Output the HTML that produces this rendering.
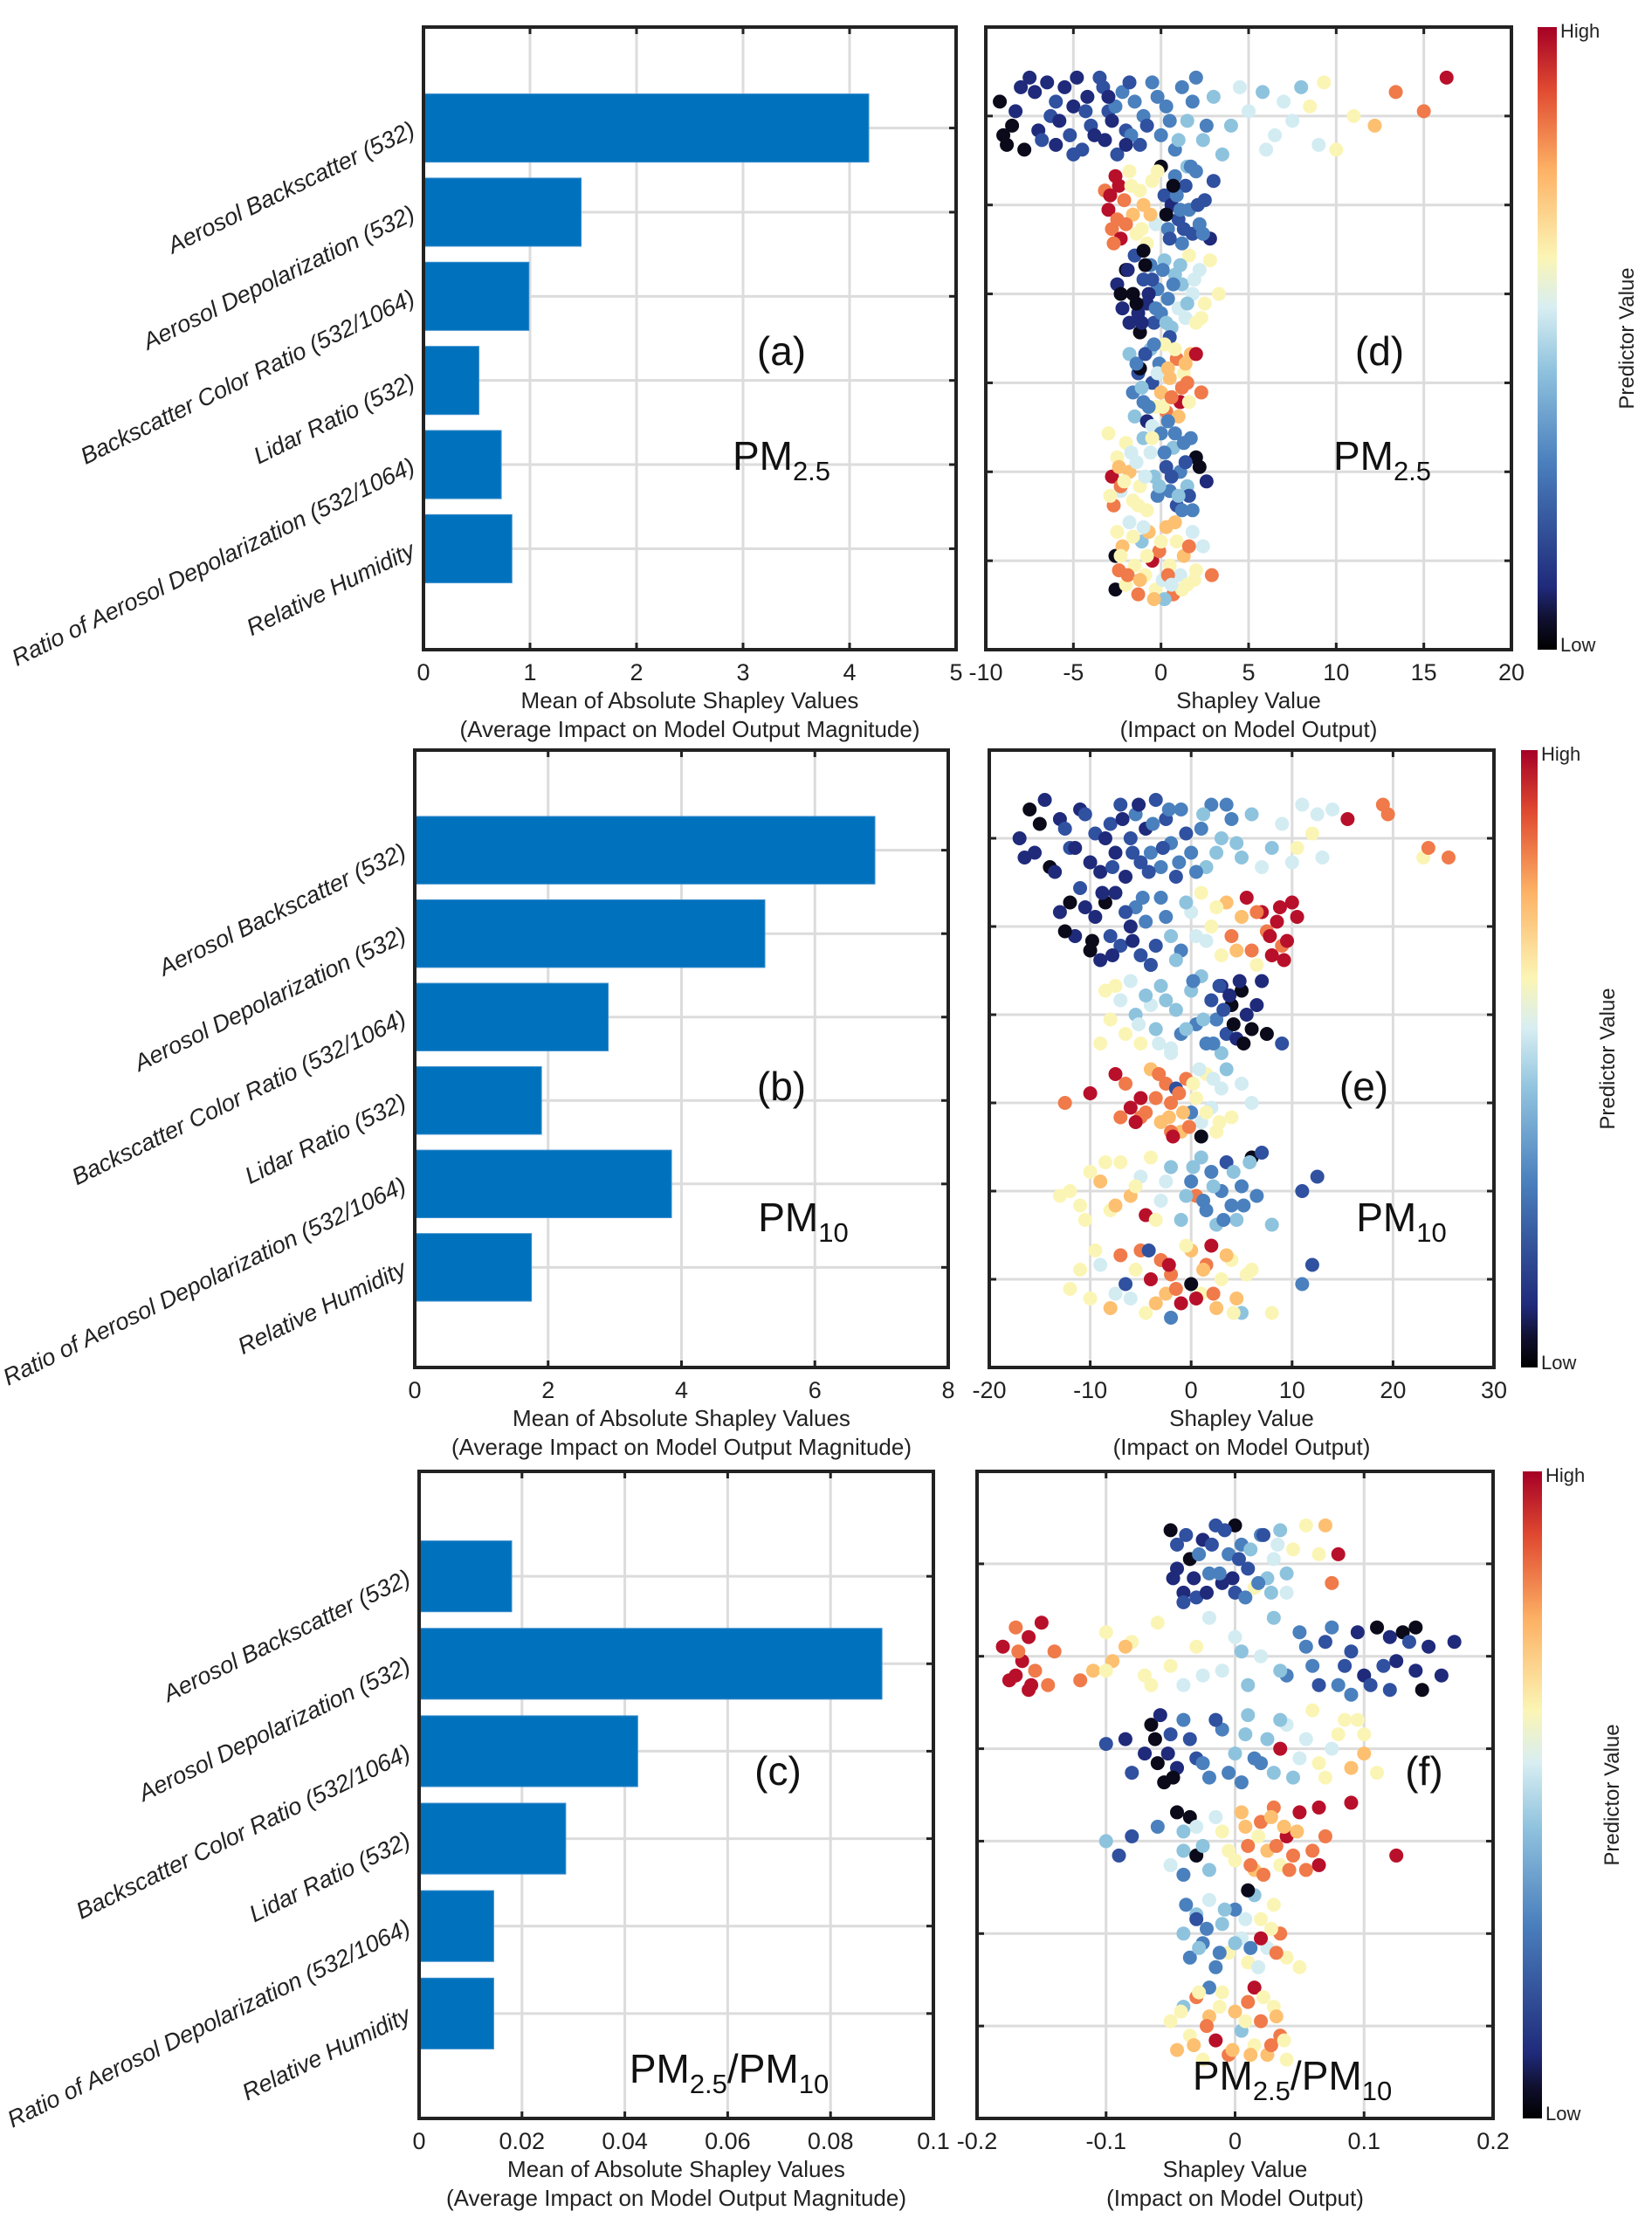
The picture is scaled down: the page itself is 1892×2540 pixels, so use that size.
<!DOCTYPE html>
<html><head><meta charset="utf-8"><style>
html,body{margin:0;padding:0;background:#fff}
svg{display:block;font-family:"Liberation Sans",Arial,sans-serif}
</style></head><body>
<svg id="fig" width="1892" height="2540" viewBox="0 0 1892 2540" xmlns="http://www.w3.org/2000/svg">
<defs>
<linearGradient id="cmap" x1="0" y1="1" x2="0" y2="0">
<stop offset="0" stop-color="#000000"/><stop offset="0.05" stop-color="#101030"/><stop offset="0.1" stop-color="#1f2a7a"/><stop offset="0.3" stop-color="#4a7fbd"/><stop offset="0.45" stop-color="#90c3de"/><stop offset="0.55" stop-color="#d8eef2"/><stop offset="0.63" stop-color="#fbf5b5"/><stop offset="0.77" stop-color="#fdb265"/><stop offset="0.9" stop-color="#e04a30"/><stop offset="1" stop-color="#a50026"/>
</linearGradient>
</defs>
</svg>
<script>
const categories = ["Aerosol Backscatter (532)","Aerosol Depolarization (532)","Backscatter Color Ratio (532/1064)","Lidar Ratio (532)","Ratio of Aerosol Depolarization (532/1064)","Relative Humidity"];
const barA = [4.18, 1.48, 0.99, 0.52, 0.73, 0.83];
const barB = [6.9, 5.25, 2.9, 1.9, 3.85, 1.75];
const barC = [0.018, 0.090, 0.0425, 0.0285, 0.0145, 0.0145];
const ticksA = [0,1,2,3,4,5];
const ticksB = [0,2,4,6,8];
const ticksC = [0,0.02,0.04,0.06,0.08,0.1];
const tickLabelsC = ["0","0.02","0.04","0.06","0.08","0.1"];
const ticksD = [-10,-5,0,5,10,15,20];
const ticksE = [-20,-10,0,10,20,30];
const ticksF = [-0.2,-0.1,0,0.1,0.2];
const tickLabelsF = ["-0.2","-0.1","0","0.1","0.2"];
const palette = ["#0a0a1a","#1f2a7a","#3050a0","#4a80bd","#8ec3de","#d2ecf2","#fbf5b5","#fdc070","#f07a4a","#b8102a"];
// scatter points: [row, shapley value, color index 0-9, jitter -9..9]
const ptsD = [
[0,-9.2,0,-3],[0,-9,0,4],[0,-8.8,0,6],[0,-8.5,0,2],[0,-8.3,1,-1],[0,-7.5,1,-8],[0,-7.2,1,-5],[0,-7,1,3],[0,-6.5,1,-7],[0,-6.3,2,0],[0,-6,1,6],[0,-5.5,1,-6],[0,-5.2,2,4],[0,-5,1,-2],[0,-4.5,2,7],[0,-4.2,1,-4],[0,-4,2,2],[0,-3.5,2,-8],[0,-3.2,1,5],[0,-3,2,-1],[0,-2.5,2,8],[0,-2.2,3,-5],[0,-2,2,3],[0,-1.5,3,-3],[0,-1.2,2,6],[0,-1,3,0],[0,-0.5,3,-7],[0,0,3,4],[0,0.3,3,-2],[0,0.8,3,7],[0,1.2,3,-6],[0,1.5,4,1],[0,2,3,-8],[0,2.4,4,5],[0,3,4,-4],[0,3.5,4,8],[0,4,4,2],[0,5,5,-1],[0,5.8,4,-5],[0,6.5,5,4],[0,7,5,-3],[0,8.5,6,-2],[0,9,5,6],[0,9.3,6,-7],[0,10,6,7],[0,11,6,0],[0,12.2,7,2],[0,13.4,8,-5],[0,15,8,-1],[0,16.3,9,-8],
[0,-8,1,-6],[0,-7.8,0,7],[0,-6.8,2,5],[0,-6,2,-3],[0,-5.8,1,1],[0,-5,2,8],[0,-4.8,1,-8],[0,-4.3,2,-1],[0,-3.8,1,4],[0,-3.3,2,-6],[0,-2.8,1,1],[0,-2.6,3,-2],[0,-1.8,2,-7],[0,-1.7,3,4],[0,-0.8,2,2],[0,-0.2,3,-4],[0,0.5,3,1],[0,1,4,5],[0,1.8,3,-3],[0,2.6,3,2],[0,4.5,5,-6],[0,6,5,7],[0,7.5,5,1],[0,8,4,-6],[0,-3,1,-4],[0,-2,1,6],
[1,-3.2,8,-3],[1,-3,9,1],[1,-2.8,8,5],[1,-2.6,9,-6],[1,-2.5,8,3],[1,-2.3,9,7],[1,-2.1,8,-1],[1,-1.8,6,-7],[1,-1.6,7,2],[1,-1.4,6,6],[1,-1.2,6,-3],[1,-1,7,0],[1,-0.8,6,8],[1,-0.5,6,-5],[1,-0.3,5,4],[1,0,0,-8],[1,0.2,2,-2],[1,0.4,3,5],[1,0.6,1,0],[1,0.8,3,-6],[1,1,2,3],[1,1.2,3,8],[1,1.4,2,-4],[1,1.6,3,1],[1,1.8,2,6],[1,2,3,-7],[1,2.2,3,4],[1,2.5,2,-1],[1,2.8,1,7],[1,3,2,-5],[1,0.3,0,2],[1,1.5,4,-8],
[1,-2.9,9,-2],[1,-2.7,8,8],[1,-2.4,9,-4],[1,-2,8,4],[1,-1.7,6,-4],[1,-1.1,6,5],[1,-0.6,7,2],[1,-0.2,6,-7],[1,0.5,2,7],[1,0.9,3,-2],[1,1.3,2,5],[1,1.7,3,-8],[1,2.1,2,0],[1,2.4,3,6],[1,0.7,0,-4],[1,1.1,3,1],
[2,-2.5,1,-2],[2,-2.2,1,3],[2,-2,0,-5],[2,-1.8,1,6],[2,-1.6,0,0],[2,-1.5,2,-8],[2,-1.3,1,4],[2,-1.2,0,8],[2,-1,2,-3],[2,-0.8,1,2],[2,-0.6,3,-6],[2,-0.4,2,6],[2,-0.2,3,-1],[2,0,3,4],[2,0.2,4,-7],[2,0.4,3,1],[2,0.6,4,7],[2,0.8,4,-4],[2,1,5,3],[2,1.2,4,-2],[2,1.4,5,5],[2,1.6,6,-8],[2,1.8,5,0],[2,2,6,6],[2,2.2,5,-5],[2,2.5,6,2],[2,2.8,6,-7],[2,3.3,6,0],[2,-1,0,-9],[2,0.5,2,9],
[2,-2.3,0,0],[2,-1.9,1,-5],[2,-1.4,0,2],[2,-1.1,1,6],[2,-0.9,0,-6],[2,-0.5,2,-3],[2,-0.3,3,3],[2,0.1,3,-5],[2,0.3,4,6],[2,0.7,3,-2],[2,1.1,4,-6],[2,1.5,4,2],[2,1.9,5,-3],[2,2.3,6,5],[2,-0.7,1,0],
[3,-1.8,4,-6],[3,-1.6,3,2],[3,-1.5,4,7],[3,-1.3,2,-2],[3,-1.2,0,-3],[3,-1,3,4],[3,-0.8,1,8],[3,-0.6,4,-7],[3,-0.5,2,0],[3,-0.3,6,5],[3,-0.1,3,-4],[3,0,7,2],[3,0.2,6,-8],[3,0.3,8,6],[3,0.5,7,-1],[3,0.7,6,3],[3,0.9,8,-5],[3,1,7,7],[3,1.1,9,4],[3,1.3,6,-2],[3,1.5,8,0],[3,1.7,7,-6],[3,2,9,-6],[3,2.3,8,2],[3,-0.5,5,9],[3,0.4,3,8],
[3,-1.4,3,-4],[3,-1.1,4,1],[3,-0.9,2,-6],[3,-0.7,3,5],[3,-0.2,5,-2],[3,0.1,6,5],[3,0.4,7,-3],[3,0.6,8,3],[3,0.8,6,-7],[3,1.2,8,1],[3,1.4,7,-4],[3,1.6,6,4],[3,-0.4,3,-8],
[4,-3,6,-8],[4,-2.8,9,1],[4,-2.7,8,7],[4,-2.5,6,-3],[4,-2.3,5,4],[4,-2,6,-6],[4,-1.8,7,0],[4,-1.6,6,6],[4,-1.4,5,-2],[4,-1.2,6,3],[4,-1,4,-7],[4,-0.8,6,8],[4,-0.6,5,-4],[4,-0.4,4,1],[4,-0.2,3,5],[4,0,3,-8],[4,0.3,2,-1],[4,0.5,3,4],[4,0.7,4,-5],[4,0.9,2,7],[4,1.1,3,0],[4,1.3,3,-6],[4,1.5,4,3],[4,1.8,3,8],[4,2,0,-3],[4,2.2,0,-1],[4,2.6,1,2],[4,1.6,2,5],[4,-2.3,8,3],
[4,-2.9,6,5],[4,-2.4,7,-1],[4,-2.1,6,2],[4,-1.7,5,-4],[4,-1.3,6,7],[4,-0.9,5,1],[4,-0.5,6,-7],[4,-0.1,4,3],[4,0.2,3,-4],[4,0.6,2,1],[4,0.8,3,-8],[4,1,4,5],[4,1.4,2,-2],[4,1.7,3,-7],[4,1.2,3,8],
[5,-2.6,0,-1],[5,-2.6,0,6],[5,-2.5,6,-6],[5,-2.4,8,2],[5,-2.2,7,-3],[5,-2,6,5],[5,-1.8,5,-8],[5,-1.5,6,1],[5,-1.3,8,7],[5,-1.1,4,-4],[5,-0.9,6,3],[5,-0.7,7,-6],[5,-0.5,9,0],[5,-0.3,6,6],[5,-0.1,8,-2],[5,0.1,5,4],[5,0.3,7,-7],[5,0.5,6,1],[5,0.7,8,7],[5,0.9,6,-4],[5,1.1,5,3],[5,1.3,7,-1],[5,1.5,6,5],[5,1.8,5,-6],[5,2,6,2],[5,2.4,5,-3],[5,2.9,8,3],[5,0.2,4,8],
[5,-2.3,6,-1],[5,-1.9,8,3],[5,-1.6,6,-5],[5,-1.2,7,4],[5,-0.8,6,-1],[5,-0.4,7,8],[5,0,6,-4],[5,0.4,8,3],[5,0.8,7,-8],[5,1.2,6,6],[5,1.6,8,-3],[5,1.9,6,4],[5,-1,5,-7],[5,0.6,5,5]
];
const ptsE = [
[0,-17,1,0],[0,-16,0,-6],[0,-15.5,1,3],[0,-15,0,-3],[0,-14.5,1,-8],[0,-14,0,6],[0,-13,1,-4],[0,-12,2,2],[0,-11,1,-6],[0,-10,1,5],[0,-9.5,2,-1],[0,-9,1,7],[0,-8,2,-3],[0,-7.5,1,3],[0,-7,2,-7],[0,-6.5,1,8],[0,-6,2,0],[0,-5.5,3,-5],[0,-5,2,5],[0,-4.5,1,-2],[0,-4,3,3],[0,-3.5,2,-8],[0,-3,3,6],[0,-2.5,2,-4],[0,-2,3,1],[0,-1.5,2,8],[0,-1,3,-6],[0,0,3,3],[0,1,3,-2],[0,1.5,4,6],[0,2,3,-7],[0,3,4,0],[0,4,3,-4],[0,5,4,4],[0,6,4,-5],[0,8,4,2],[0,9,5,-3],[0,10,5,5],[0,11,5,-7],[0,12,6,-1],[0,13,5,4],[0,14,5,-6],[0,15.5,9,-4],[0,19,8,-7],[0,19.5,8,-5],[0,23,6,4],[0,23.5,8,2],[0,25.5,8,4],
[0,-16.5,1,4],[0,-13.5,1,7],[0,-12.5,2,-2],[0,-11.5,1,2],[0,-10.5,2,-5],[0,-8.5,1,0],[0,-7.8,2,6],[0,-6.8,1,-4],[0,-5.8,2,3],[0,-5.2,1,-7],[0,-4.2,2,7],[0,-3.8,3,-3],[0,-2.8,2,2],[0,-2.2,3,-6],[0,-1.2,3,5],[0,-0.5,2,-1],[0,0.5,3,7],[0,1.2,4,-5],[0,2.5,4,3],[0,3.5,3,-7],[0,4.5,4,1],[0,7,5,6],[0,10.5,6,2],[0,12.5,5,-5],
[1,-13,1,-3],[1,-12,0,-5],[1,-11.5,1,2],[1,-11,2,-8],[1,-10,0,5],[1,-9.5,1,-2],[1,-9,1,7],[1,-8.5,0,-5],[1,-8,2,2],[1,-7.5,1,-7],[1,-7,2,4],[1,-6,1,0],[1,-5.5,3,-4],[1,-5,2,6],[1,-4.5,3,-1],[1,-4,2,8],[1,-3,3,-6],[1,-2,4,2],[1,-1,3,5],[1,0,5,-3],[1,1,6,-7],[1,1.5,5,3],[1,2,6,0],[1,3,6,6],[1,3.5,7,-5],[1,4,8,2],[1,5,7,-2],[1,5.5,9,-6],[1,6,8,5],[1,7,9,-3],[1,7.5,8,1],[1,8,9,6],[1,8.5,9,-1],[1,9,8,4],[1,10,9,-5],[1,10.5,9,-2],[1,9.5,9,3],[1,6.5,6,8],
[1,-12.5,0,1],[1,-10.5,1,-4],[1,-9.8,0,3],[1,-8.8,1,-7],[1,-7.8,1,6],[1,-6.5,2,-3],[1,-5.8,1,3],[1,-4.8,3,-6],[1,-3.5,2,4],[1,-2.5,3,-2],[1,-1.5,4,7],[1,-0.5,4,-5],[1,0.5,5,2],[1,2.5,6,-4],[1,4.5,7,5],[1,6.5,8,-3],[1,7.8,9,2],[1,8.8,9,-4],[1,9.2,9,7],
[2,-9,6,6],[2,-8.5,6,-5],[2,-8,6,1],[2,-7,5,-3],[2,-6.5,6,4],[2,-6,5,-7],[2,-5.5,4,0],[2,-5,6,6],[2,-4,5,-2],[2,-3.5,4,3],[2,-3,4,-6],[2,-2,5,7],[2,-1.5,4,-1],[2,-1,3,4],[2,0,4,-5],[2,0.5,3,2],[2,1,4,-8],[2,1.5,3,6],[2,2,2,-3],[2,2.5,3,1],[2,3,1,-6],[2,3.5,2,4],[2,4,0,-2],[2,4.5,1,5],[2,5,0,-5],[2,5.5,1,0],[2,6,0,3],[2,7,1,-7],[2,7.5,0,4],[2,9,2,6],[2,3,4,8],[2,-2,5,8],
[2,-7.5,6,-6],[2,-5.2,5,2],[2,-4.5,4,-4],[2,-3.2,5,6],[2,-2.5,4,-3],[2,-0.5,4,3],[2,0.2,3,-7],[2,1.2,4,1],[2,2.2,3,6],[2,3.2,2,-1],[2,3.8,1,-4],[2,4.2,0,2],[2,4.8,1,-7],[2,5.2,0,6],[2,6.5,1,-2],[2,2.8,2,-6],
[3,-12.5,8,0],[3,-10,9,-2],[3,-7.5,9,-6],[3,-7,8,3],[3,-6,9,1],[3,-5,9,-1],[3,-6.5,8,-4],[3,-5,8,3],[3,-4,7,-7],[3,-3.5,8,-1],[3,-3,7,4],[3,-2.5,8,-4],[3,-2,8,0],[3,-1.5,2,-3],[3,-1,7,6],[3,-0.5,8,-5],[3,0,3,2],[3,0.5,6,-1],[3,1,5,4],[3,1.5,6,-6],[3,2,5,1],[3,2.5,6,6],[3,3,5,-3],[3,3.5,4,-7],[3,4,6,3],[3,5,5,-4],[3,6,5,0],[3,1,0,7],[3,-2,8,6],
[3,-5.5,9,4],[3,-4.5,8,2],[3,-3.2,8,-6],[3,-2.2,7,3],[3,-1.2,8,-2],[3,-0.8,7,2],[3,-0.2,8,5],[3,0.2,6,-4],[3,0.8,5,-7],[3,1.5,6,2],[3,2.2,5,-5],[3,2.8,6,4],[3,-1.8,9,7],
[4,-12,6,0],[4,-11,6,3],[4,-10,6,-4],[4,-9,7,-2],[4,-8,6,4],[4,-7,6,-6],[4,-6,7,1],[4,-5,5,-3],[4,-4.5,9,5],[4,-4,6,-7],[4,-3,5,2],[4,-2,4,-5],[4,-1,4,6],[4,0,3,-2],[4,0.5,8,1],[4,1,4,-7],[4,1.5,3,4],[4,2,3,-4],[4,2.5,4,7],[4,3,3,0],[4,3.5,2,-6],[4,4,3,3],[4,4.5,4,6],[4,5,3,-1],[4,6,0,-7],[4,7,2,-8],[4,8,4,7],[4,11,2,0],[4,12.5,2,-3],[4,-13,6,1],
[4,-10.5,6,6],[4,-8.5,6,-6],[4,-7.5,7,3],[4,-5.5,6,-1],[4,-3.5,6,6],[4,-2.5,5,-2],[4,-0.5,4,1],[4,0.2,4,-5],[4,1.2,3,2],[4,2.2,4,-1],[4,3.2,3,6],[4,4.2,4,-4],[4,5.2,3,3],[4,5.8,4,-6],[4,6.5,3,1],
[5,-12,6,2],[5,-11,6,-2],[5,-10,6,4],[5,-9,5,-3],[5,-8,7,6],[5,-7,8,-5],[5,-6.5,2,1],[5,-6,5,4],[5,-5,8,-6],[5,-4.5,6,7],[5,-4,9,0],[5,-3,8,-4],[5,-2.5,7,3],[5,-2,8,-1],[5,-1,9,5],[5,0,0,1],[5,0,7,-6],[5,1,6,3],[5,1.5,8,-3],[5,2,9,-7],[5,2.5,7,6],[5,3,6,0],[5,4,6,-4],[5,4.5,7,4],[5,5,4,7],[5,6,6,-2],[5,8,6,7],[5,11,3,1],[5,12,2,-3],[5,-2,3,8],
[5,-9.5,6,-6],[5,-7.5,5,3],[5,-5.5,6,-2],[5,-3.5,7,5],[5,-2.2,9,-3],[5,-1.5,8,2],[5,-0.5,6,-7],[5,0.5,9,4],[5,1.2,7,-2],[5,2.2,8,3],[5,3.5,7,-5],[5,4.2,6,7],[5,5.5,6,-1],[5,-4.2,2,-6]
];
const ptsF = [
[0,-0.05,0,-7],[0,-0.048,1,3],[0,-0.045,2,-4],[0,-0.04,1,6],[0,-0.035,0,-1],[0,-0.03,2,7],[0,-0.025,1,-5],[0,-0.02,3,2],[0,-0.015,2,-8],[0,-0.01,1,4],[0,-0.005,3,-2],[0,0,2,6],[0,0,0,-8],[0,0.005,3,-4],[0,0.01,2,1],[0,0.015,6,5],[0,0.02,3,-6],[0,0.025,4,3],[0,0.03,5,-1],[0,0.035,4,-7],[0,0.04,5,6],[0,0.045,6,-3],[0,0.055,6,-8],[0,0.065,6,-2],[0,0.07,7,-8],[0,0.075,8,4],[0,0.08,9,-2],[0,-0.04,2,8],
[0,-0.045,1,1],[0,-0.038,2,-6],[0,-0.032,1,3],[0,-0.028,3,-2],[0,-0.022,1,6],[0,-0.018,2,-4],[0,-0.012,3,2],[0,-0.008,2,-7],[0,-0.002,1,3],[0,0.003,2,-1],[0,0.008,3,7],[0,0.012,4,-3],[0,0.018,3,4],[0,0.022,2,-6],[0,0.028,4,6],[0,0.033,5,-4],[0,0.04,4,2],
[1,-0.18,9,-2],[1,-0.175,9,5],[1,-0.17,8,-6],[1,-0.165,9,1],[1,-0.16,9,-4],[1,-0.16,9,7],[1,-0.155,8,3],[1,-0.15,9,-7],[1,-0.145,8,6],[1,-0.14,8,-1],[1,-0.12,8,5],[1,-0.11,7,3],[1,-0.1,6,-5],[1,-0.095,7,1],[1,-0.08,6,-3],[1,-0.07,6,4],[1,-0.06,6,-7],[1,-0.05,6,2],[1,-0.04,5,6],[1,-0.03,6,-2],[1,-0.02,5,-8],[1,-0.01,5,3],[1,0,5,-4],[1,0.01,4,6],[1,0.02,5,0],[1,0.03,4,-8],[1,0.04,3,4],[1,0.05,3,-5],[1,0.06,3,2],[1,0.07,2,-3],[1,0.08,3,6],[1,0.09,2,-1],[1,0.1,1,4],[1,0.11,0,-6],[1,0.115,2,2],[1,0.12,1,-4],[1,0.13,0,-5],[1,0.14,1,3],[1,0.145,0,7],[1,0.15,1,-2],[1,0.17,1,-3],[1,0.09,3,8],[1,0.12,2,7],
[1,-0.17,9,4],[1,-0.168,8,-1],[1,-0.158,9,6],[1,-0.1,6,3],[1,-0.085,7,-2],[1,-0.065,6,6],[1,-0.025,5,4],[1,0.005,4,-1],[1,0.035,4,3],[1,0.055,3,-2],[1,0.065,2,6],[1,0.075,3,-6],[1,0.085,2,2],[1,0.095,1,-5],[1,0.105,2,6],[1,0.125,1,1],[1,0.135,2,-3],[1,0.14,0,-6],[1,0.16,1,4],
[2,-0.1,2,-1],[2,-0.085,1,-2],[2,-0.08,2,5],[2,-0.07,1,1],[2,-0.065,0,-5],[2,-0.06,0,3],[2,-0.058,1,-7],[2,-0.055,0,7],[2,-0.05,2,-3],[2,-0.045,1,4],[2,-0.04,3,-6],[2,-0.03,2,2],[2,-0.02,3,6],[2,-0.01,3,-4],[2,0,4,1],[2,0.005,3,7],[2,0.01,4,-7],[2,0.02,3,3],[2,0.025,4,-2],[2,0.03,4,5],[2,0.04,5,-5],[2,0.05,5,2],[2,0.06,6,-8],[2,0.07,6,6],[2,0.075,5,0],[2,0.08,6,-3],[2,0.09,7,4],[2,0.095,6,-6],[2,0.1,7,1],[2,0.11,6,5],[2,0.035,9,0],
[2,-0.062,0,-2],[2,-0.052,1,1],[2,-0.048,0,6],[2,-0.035,2,-2],[2,-0.025,3,3],[2,-0.015,2,-6],[2,-0.005,3,5],[2,0.008,4,-3],[2,0.015,3,2],[2,0.035,4,-6],[2,0.045,4,6],[2,0.055,5,-2],[2,0.065,6,3],[2,0.085,6,-6],[2,0.1,6,-3],
[3,-0.1,4,0],[3,-0.08,2,-1],[3,-0.09,2,3],[3,-0.06,3,-3],[3,-0.05,5,5],[3,-0.045,0,-6],[3,-0.04,4,2],[3,-0.035,0,-5],[3,-0.03,5,-3],[3,-0.03,0,3],[3,-0.02,4,6],[3,-0.01,6,-2],[3,0,6,4],[3,0.005,7,-6],[3,0.01,8,1],[3,0.015,7,6],[3,0.02,8,-4],[3,0.025,7,2],[3,0.03,8,-7],[3,0.035,6,5],[3,0.04,9,-1],[3,0.045,8,3],[3,0.05,9,-6],[3,0.055,8,6],[3,0.065,9,-7],[3,0.07,8,-1],[3,0.09,9,-8],[3,0.065,9,5],[3,0.125,9,3],[3,-0.04,3,7],
[3,-0.04,4,-2],[3,-0.025,4,1],[3,-0.015,5,-5],[3,-0.005,6,2],[3,0.008,7,-3],[3,0.012,8,5],[3,0.018,6,-1],[3,0.022,8,7],[3,0.028,7,-5],[3,0.032,8,1],[3,0.038,7,-3],[3,0.042,8,6],[3,0.048,7,-2],[3,0.06,8,2],
[4,-0.04,4,0],[4,-0.035,3,5],[4,-0.03,4,-4],[4,-0.025,3,2],[4,-0.02,5,-7],[4,-0.015,3,7],[4,-0.01,4,-2],[4,-0.005,6,4],[4,0,3,-5],[4,0.005,5,1],[4,0.01,6,6],[4,0.015,4,-8],[4,0.02,6,-3],[4,0.025,5,3],[4,0.03,6,-6],[4,0.035,8,0],[4,0.04,6,5],[4,0.05,6,7],[4,-0.03,2,-3],[4,0.01,0,-9],[4,0.02,9,1],
[4,-0.038,3,-6],[4,-0.028,4,3],[4,-0.022,3,-1],[4,-0.012,3,4],[4,-0.008,4,-5],[4,0,4,2],[4,0.008,5,-3],[4,0.012,3,3],[4,0.018,5,7],[4,0.028,6,-1],[4,0.032,8,4],
[5,-0.05,6,-1],[5,-0.045,7,5],[5,-0.04,4,-4],[5,-0.035,6,2],[5,-0.03,8,-6],[5,-0.025,6,7],[5,-0.02,7,-2],[5,-0.015,9,3],[5,-0.01,6,-7],[5,-0.005,8,6],[5,0,7,-3],[5,0.005,4,1],[5,0.01,8,-5],[5,0.015,6,4],[5,0.02,8,-1],[5,0.025,7,6],[5,0.03,6,-4],[5,0.035,8,2],[5,0.04,6,7],[5,-0.02,3,-8],[5,0.015,9,-8],
[5,-0.042,6,-3],[5,-0.032,7,4],[5,-0.022,8,0],[5,-0.012,6,-4],[5,-0.002,7,5],[5,0.008,6,-1],[5,0.012,7,6],[5,0.022,6,-6],[5,0.028,8,4],[5,0.032,7,-2],[5,0.038,6,3],[5,-0.028,6,-7]
];

const NS = "http://www.w3.org/2000/svg";
const svg = document.getElementById('fig');
function mk(tag, attrs, parent, text){
  const e = document.createElementNS(NS, tag);
  for (const k in attrs) e.setAttribute(k, attrs[k]);
  if (text !== undefined) e.textContent = text;
  (parent || svg).appendChild(e);
  return e;
}
function lin(d0,d1,r0,r1){ return v => r0 + (v-d0)/(d1-d0)*(r1-r0); }

function axesFrame(g, x0,x1,y0,y1, xs, ticks, labels, ys, nrows){
  ticks.forEach((t,i)=>{
    const x = xs(t);
    const gl = mk('line',{x1:x,x2:x,y1:y0,y2:y1,stroke:'#dcdcdc','stroke-width':3},g);
    
    
    mk('line',{x1:x,x2:x,y1:y1,y2:y1-8,stroke:'#222','stroke-width':3},g);
    mk('line',{x1:x,x2:x,y1:y0,y2:y0+8,stroke:'#222','stroke-width':3},g);
    const tl = mk('text',{x:x,y:y1+35,'text-anchor':'middle','font-size':27,fill:'#222'},g,labels[i]);
    
    
  });
  for(let i=0;i<nrows;i++){
    const y = ys(i);
    const hl = mk('line',{x1:x0,x2:x1,y1:y,y2:y,stroke:'#dcdcdc','stroke-width':3},g);
    
    
    mk('line',{x1:x0,x2:x0+8,y1:y,y2:y,stroke:'#222','stroke-width':3},g);
    mk('line',{x1:x1,x2:x1-8,y1:y,y2:y,stroke:'#222','stroke-width':3},g);
  }
}
function box(g,x0,x1,y0,y1){
  const r = mk('rect',{x:x0,y:y0,width:x1-x0,height:y1-y0,fill:'none',stroke:'#222','stroke-width':4},g);
  
  
}
function xlabels(g, cx, y1, l1, l2){
  const a = mk('text',{x:cx,y:y1+67,'text-anchor':'middle','font-size':26,fill:'#222'},g,l1);
  
  
  const b = mk('text',{x:cx,y:y1+100,'text-anchor':'middle','font-size':26,fill:'#222'},g,l2);
  
  
}
function bigLabel(g,x,y,txt,name){
  const t = mk('text',{x:x,y:y,'text-anchor':'middle','font-size':46,fill:'#111'},g,txt);
  
  
}
function pmLabel(g,x,y,parts,name){
  const t = mk('text',{x:x,y:y,'text-anchor':'middle','font-size':46,fill:'#111'},g);
  
  
  parts.forEach(p=>{
    mk('tspan', p[1] ? {'font-size':31,dy:12} : {dy:p[2]||0}, t, p[0]);
  });
}

function barPanel(name, x0,x1,y0,y1, dmax, vals, ticks, labels){
  const g = mk('g',{});
  
  
  const xs = lin(0,dmax,x0,x1);
  const ys = lin(-1.2,6.2,y0,y1);
  const step = ys(1)-ys(0);
  mk('rect',{x:x0,y:y0,width:x1-x0,height:y1-y0,fill:'#fff'},g);
  axesFrame(g,x0,x1,y0,y1,xs,ticks,labels,ys,6);
  vals.forEach((v,i)=>{
    const h = step*0.81;
    const r = mk('rect',{x:x0,y:ys(i)-h/2,width:xs(v)-x0,height:h,fill:'#0072bd',stroke:'#3a8ccc','stroke-width':1},g);
    
    
    const t = mk('text',{x:0,y:0,'text-anchor':'end','font-size':27,'font-style':'italic',fill:'#222',
      transform:`translate(${x0-8},${ys(i)+8}) rotate(-26)`},g,categories[i]);
    
    
  });
  box(g,x0,x1,y0,y1);
  xlabels(g,(x0+x1)/2,y1,'Mean of Absolute Shapley Values','(Average Impact on Model Output Magnitude)');
  return g;
}
function scatterPanel(name, x0,x1,y0,y1, dmin,dmax, pts, ticks, labels){
  const g = mk('g',{});
  
  
  const xs = lin(dmin,dmax,x0,x1);
  const ys = lin(-1,6,y0,y1);
  axesFrame(g,x0,x1,y0,y1,xs,ticks,labels,ys,6);
  pts.forEach(p=>{
    const c = mk('circle',{cx:xs(p[1]),cy:ys(p[0])+p[3]*5.5,r:8,fill:palette[p[2]]},g);
    
    
  });
  box(g,x0,x1,y0,y1);
  xlabels(g,(x0+x1)/2,y1,'Shapley Value','(Impact on Model Output)');
  return g;
}
function colorbar(name,x0,x1,y0,y1){
  const g = mk('g',{});
  
  
  mk('rect',{x:x0,y:y0,width:x1-x0,height:y1-y0,fill:'url(#cmap)'},g);
  const h = mk('text',{x:x1+4,y:y0+12,'font-size':22,fill:'#222'},g,'High');
  
  
  const l = mk('text',{x:x1+4,y:y1+2,'font-size':22,fill:'#222'},g,'Low');
  
  
  const cy=(y0+y1)/2;
  const t = mk('text',{x:0,y:0,'text-anchor':'middle','font-size':24,fill:'#222',transform:`translate(${x1+88},${cy}) rotate(-90)`},g,'Predictor Value');
  
  
}

const ga = barPanel('panel-a-bar-pm25',485,1095,31,744,5,barA,ticksA,ticksA.map(String));
bigLabel(ga,895,418,'(a)','panel-label-a');
pmLabel(ga,895,538,[['PM'],['2.5',true]],'target-label-pm25');
const gd = scatterPanel('panel-d-scatter-pm25',1129,1731,31,744,-10,20,ptsD,ticksD,ticksD.map(String));
bigLabel(gd,1580,418,'(d)','panel-label-d');
pmLabel(gd,1583,538,[['PM'],['2.5',true]],'target-label-pm25');
colorbar('colorbar-pm25',1761,1783,31,744);

const gb = barPanel('panel-b-bar-pm10',475,1086,859,1566,8,barB,ticksB,ticksB.map(String));
bigLabel(gb,895,1260,'(b)','panel-label-b');
pmLabel(gb,920,1410,[['PM'],['10',true]],'target-label-pm10');
const ge = scatterPanel('panel-e-scatter-pm10',1133,1711,859,1566,-20,30,ptsE,ticksE,ticksE.map(String));
bigLabel(ge,1562,1260,'(e)','panel-label-e');
pmLabel(ge,1605,1410,[['PM'],['10',true]],'target-label-pm10');
colorbar('colorbar-pm10',1742,1761,859,1566);

const gc = barPanel('panel-c-bar-ratio',480,1069,1685,2426,0.1,barC,ticksC,tickLabelsC);
bigLabel(gc,891,2044,'(c)','panel-label-c');
pmLabel(gc,835,2385,[['PM'],['2.5',true],['/PM',false,-12],['10',true]],'target-label-ratio');
const gf = scatterPanel('panel-f-scatter-ratio',1119,1710,1685,2426,-0.2,0.2,ptsF,ticksF,tickLabelsF);
bigLabel(gf,1631,2044,'(f)','panel-label-f');
pmLabel(gf,1480,2393,[['PM'],['2.5',true],['/PM',false,-12],['10',true]],'target-label-ratio');
colorbar('colorbar-ratio',1744,1766,1685,2426);
</script>
</body></html>
